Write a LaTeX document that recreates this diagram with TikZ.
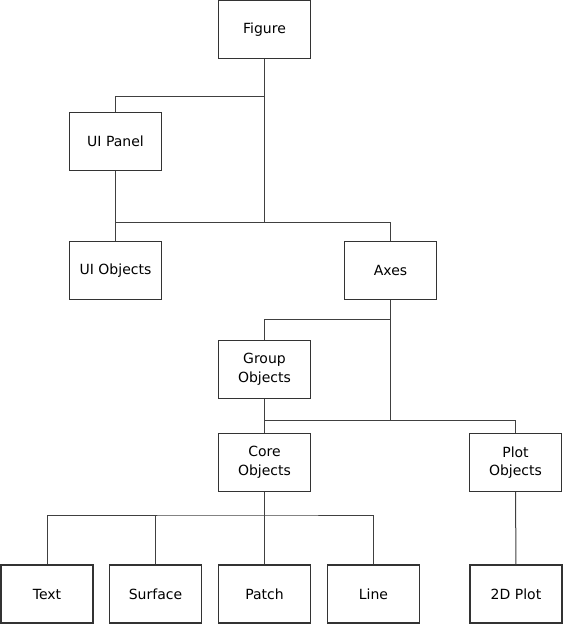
\documentclass[tikz,border=0pt]{standalone}
\usepackage{fontspec}
\setmainfont{DejaVu Sans}
\begin{document}
\begin{tikzpicture}[x=1pt,y=-1pt,
  box/.style={draw=black!80,line width=1.1pt,fill=white,minimum width=92pt,minimum height=58pt,
    inner sep=0pt,align=center,font=\fontsize{14}{18.5}\selectfont},
  link/.style={draw=black!75,line width=1pt}]
\useasboundingbox (0,0) rectangle (564,625);
% boxes
\node[box] (fig)  at (264.5,29.5)  {Figure};
\node[box] (uip)  at (115.5,141.5) {UI Panel};
\node[box] (uio)  at (115.5,270.5) {UI Objects};
\node[box] (axes) at (390.5,270.5) {Axes};
\node[box] (grp)  at (264.5,369.5) {Group\\Objects};
\node[box] (core) at (264.5,462.5) {Core\\Objects};
\node[box] (plot) at (515.5,462.5) {Plot\\Objects};
\node[box] (txt)  at (47,594)      {Text};
\node[box] (srf)  at (155.5,594)   {Surface};
\node[box] (pat)  at (264.5,594)   {Patch};
\node[box] (ln)   at (373.5,594)   {Line};
\node[box] (p2d)  at (516,594)     {2D Plot};
% junction points
\coordinate (figbus)   at (264.5,96);
\coordinate (figjoin)  at (264.5,222);
\coordinate (axbus)    at (390.5,319);
\coordinate (axjoin)   at (390.5,420);
\coordinate (corebus)  at (264.5,515);
% connectors
\draw[link] (fig.south) -- (figjoin);
\draw[link] (figbus) -| (uip.north);
\draw[link] (uip.south) -- (uio.north);
\draw[link] (uio.north |- figjoin) -| (axes.north);
\draw[link] (axes.south) -- (axjoin);
\draw[link] (axbus) -| (grp.north);
\draw[link] (grp.south) -- (core.north);
\draw[link] (core.north |- axjoin) -| (plot.north);
\draw[link] (core.south) -- (pat.north);
\draw[link] (txt.north) |- (corebus) -| (ln.north);
\draw[link] (srf.north) -- (srf.north |- corebus);
\draw[link] (plot.south) -- (p2d.north);
\end{tikzpicture}
\end{document}
